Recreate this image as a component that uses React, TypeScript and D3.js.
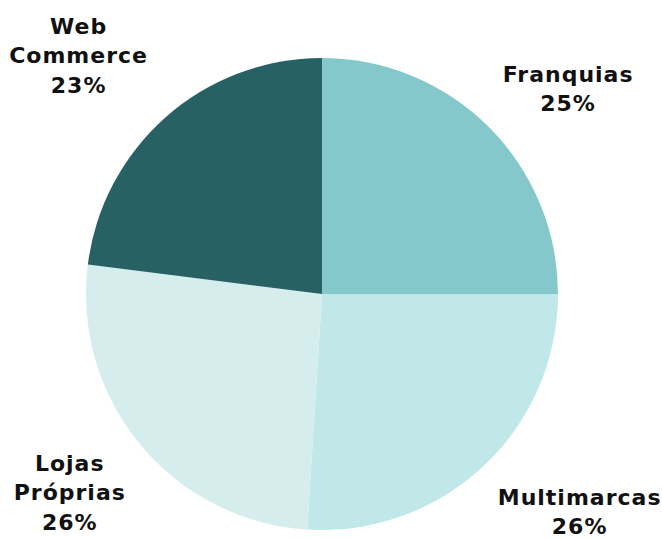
import React from "react";
import * as d3 from "d3";

const categories = ["Franquias", "Multimarcas", "Lojas Próprias", "Web Commerce"];
const values = [25, 26, 26, 23];
const labelLines = [["Franquias"], ["Multimarcas"], ["Lojas", "Próprias"], ["Web", "Commerce"]];
const colors = ["#85C8CB", "#C0E8E9", "#D6EDEE", "#286164"];

// layout constants
const W = 662;
const H = 539;
const cx = 322;
const cy = 294;
const R = 236;
const LABEL_RX = 365;
const LABEL_RY = 305;
const LABEL_NUDGE: [number, number][] = [[-12, 10], [11, -5], [29, 4], [-2, -10]];
const LINE_H = 29.5;
const FONT = "'DejaVu Sans', sans-serif";
const FS = 22;
const LS = 1;

function measure(text: string): number {
  if (typeof document === "undefined") return text.length * FS * 0.65;
  const c = document.createElement("canvas").getContext("2d");
  if (!c) return text.length * FS * 0.65;
  c.font = `bold ${FS}px ${FONT}`;
  return c.measureText(text).width + LS * (text.length - 1);
}

export default function App() {
  const data = categories.map((c, i) => ({ name: c, value: values[i], lines: labelLines[i], color: colors[i] }));
  const pie = d3.pie<any>().value((d) => d.value).sort(null).startAngle(0).endAngle(2 * Math.PI);
  const arcs = pie(data);
  const arc = d3.arc<any>().innerRadius(0).outerRadius(R);

  return (
    <svg width={W} height={H} style={{ position: "absolute", left: 0, top: 0 }}>
      <rect width={W} height={H} fill="#ffffff" />
      <g transform={`translate(${cx},${cy})`}>
        {arcs.map((a, i) => (
          <path key={i} d={arc(a) as string} fill={a.data.color} />
        ))}
      </g>
      {arcs.map((a, i) => {
        const mid = (a.startAngle + a.endAngle) / 2;
        const lines = [...a.data.lines, `${a.data.value}%`];
        const half = Math.max(...lines.map(measure)) / 2;
        let lx = cx + Math.sin(mid) * LABEL_RX + LABEL_NUDGE[i][0];
        lx = Math.max(half, Math.min(W - half - 1, lx));
        const ly = cy - Math.cos(mid) * LABEL_RY + LABEL_NUDGE[i][1];
        const first = ly + 8 - ((lines.length - 1) * LINE_H) / 2;
        return (
          <text
            key={"t" + i}
            textAnchor="middle"
            fontFamily={FONT}
            fontWeight="bold"
            fontSize={FS}
            letterSpacing={LS}
            fill="#111"
          >
            {lines.map((l, j) => (
              <tspan key={j} x={lx} y={first + j * LINE_H}>
                {l}
              </tspan>
            ))}
          </text>
        );
      })}
    </svg>
  );
}
